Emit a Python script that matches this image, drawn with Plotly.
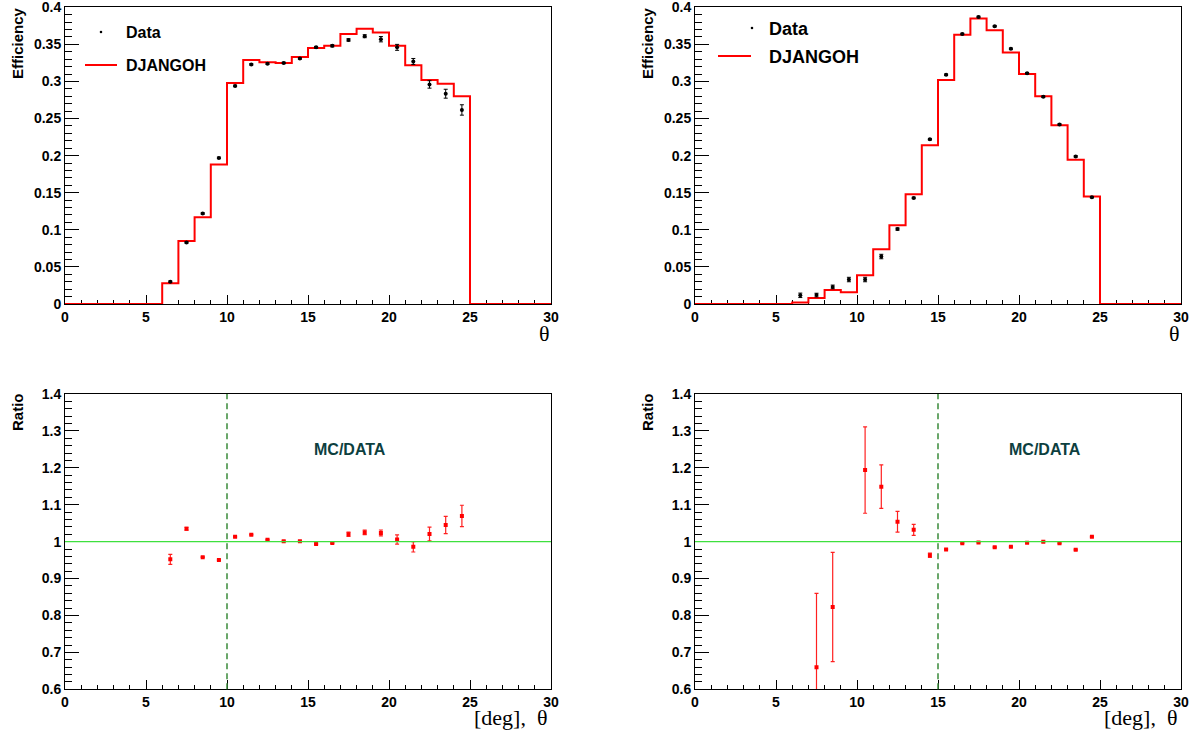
import plotly.graph_objects as go

W, H = 1197, 733

# ---------------- data ----------------
bin_edges = [0, 1, 2, 3, 4, 5, 6, 7, 8, 9, 10, 11, 12, 13, 14, 15, 16, 17, 18, 19,
             20, 21, 22, 23, 24, 25, 26, 27, 28, 29, 30]

mc_left = [0, 0, 0, 0, 0, 0, 0.028, 0.085, 0.117, 0.188, 0.298, 0.329, 0.326, 0.325,
           0.333, 0.345, 0.348, 0.364, 0.371, 0.366, 0.348, 0.322, 0.302, 0.297, 0.280,
           0, 0, 0, 0, 0]
mc_right = [0, 0, 0, 0, 0, 0, 0.002, 0.008, 0.019, 0.016, 0.0387, 0.0737, 0.106, 0.148,
            0.214, 0.302, 0.363, 0.385, 0.369, 0.339, 0.310, 0.280, 0.241, 0.1946, 0.145,
            0, 0, 0, 0, 0]

data_x = [6.5, 7.5, 8.5, 9.5, 10.5, 11.5, 12.5, 13.5, 14.5, 15.5, 16.5, 17.5, 18.5,
          19.5, 20.5, 21.5, 22.5, 23.5, 24.5]
data_left = [0.030, 0.083, 0.122, 0.197, 0.294, 0.323, 0.324, 0.325, 0.331, 0.346, 0.348,
             0.356, 0.361, 0.357, 0.346, 0.327, 0.296, 0.2835, 0.2616]
data_left_err = [0.001, 0.001, 0.001, 0.001, 0.001, 0.001, 0.001, 0.001, 0.001, 0.0012,
                 0.0014, 0.0016, 0.002, 0.0036, 0.004, 0.004, 0.005, 0.006, 0.007]
data_right = [0.0117, 0.012, 0.023, 0.033, 0.033, 0.064, 0.101, 0.143, 0.222, 0.309, 0.364,
              0.387, 0.3745, 0.344, 0.311, 0.2795, 0.242, 0.199, 0.144]
data_right_err = [0.003, 0.0025, 0.0025, 0.003, 0.003, 0.003, 0.0015, 0.001, 0.001, 0.001,
                  0.001, 0.001, 0.001, 0.001, 0.001, 0.001, 0.001, 0.001, 0.001]

ratio_left_x = [6.5, 7.5, 8.5, 9.5, 10.5, 11.5, 12.5, 13.5, 14.5, 15.5, 16.5, 17.5, 18.5,
                19.5, 20.5, 21.5, 22.5, 23.5, 24.5]
ratio_left = [0.952, 1.035, 0.958, 0.950, 1.0135, 1.019, 1.0054, 1.001, 1.001, 0.9937,
              0.9964, 1.020, 1.025, 1.0235, 1.006, 0.986, 1.021, 1.045, 1.0696]
ratio_left_err = [0.0135, 0.004, 0.001, 0.001, 0.001, 0.001, 0.001, 0.001, 0.001, 0.001,
                  0.001, 0.006, 0.006, 0.008, 0.0125, 0.014, 0.0185, 0.0235, 0.029]

ratio_right_x = [7.5, 8.5, 10.5, 11.5, 12.5, 13.5, 14.5, 15.5, 16.5, 17.5, 18.5, 19.5,
                 20.5, 21.5, 22.5, 23.5, 24.5]
ratio_right = [0.660, 0.823, 1.194, 1.149, 1.054, 1.032, 0.963, 0.979, 0.996, 0.998, 0.985,
               0.986, 0.997, 1.000, 0.9955, 0.978, 1.0135]
ratio_right_err = [0.20, 0.148, 0.117, 0.059, 0.028, 0.015, 0.006, 0.001, 0.001, 0.001,
                   0.001, 0.001, 0.001, 0.001, 0.001, 0.001, 0.001]

cut_left = 10
cut_right = 15

x_ticks = [0, 5, 10, 15, 20, 25, 30]
x_ticklabels = ["0", "5", "10", "15", "20", "25", "30"]
eff_ticks = [0, 0.05, 0.1, 0.15, 0.2, 0.25, 0.3, 0.35, 0.4]
eff_ticklabels = ["0", "0.05", "0.1", "0.15", "0.2", "0.25", "0.3", "0.35", "0.4"]
ratio_ticks = [0.6, 0.7, 0.8, 0.9, 1.0, 1.1, 1.2, 1.3, 1.4]
ratio_ticklabels = ["0.6", "0.7", "0.8", "0.9", "1", "1.1", "1.2", "1.3", "1.4"]

# ---------------- helpers ----------------
def px(x):
    return x / W


def py(y):
    return 1 - y / H


TICKFONT = dict(family="Liberation Sans", size=14, color="black", weight="bold")


def xaxis(domain, anchor, layer="above traces"):
    return dict(domain=domain, anchor=anchor, range=[0, 30], automargin=False,
                tickmode="array", tickvals=x_ticks, ticktext=x_ticklabels,
                ticklabeloverflow="allow",
                ticks="inside", ticklen=9, tickcolor="black", tickwidth=1,
                minor=dict(ticks="inside", dtick=1, tick0=0, ticklen=4.5,
                           tickcolor="black", showgrid=False),
                showline=True, linecolor="black", linewidth=1, mirror=True,
                showgrid=False, zeroline=False, tickfont=TICKFONT, layer=layer)


def yaxis(domain, anchor, rng, tv, tt, mdtick, mtick0):
    return dict(domain=domain, anchor=anchor, range=rng, automargin=False,
                tickmode="array", tickvals=tv, ticktext=tt,
                ticklabeloverflow="allow",
                ticks="inside", ticklen=14, tickcolor="black", tickwidth=1,
                minor=dict(ticks="inside", dtick=mdtick, tick0=mtick0, ticklen=7,
                           tickcolor="black", showgrid=False),
                showline=True, linecolor="black", linewidth=1, mirror=True,
                showgrid=False, zeroline=False, tickfont=TICKFONT)


xl = [px(65), px(551)]
xr = [px(695), px(1181)]
yt = [py(304), py(7.3)]
yb = [py(689.3), py(394)]

fig = go.Figure()

# top panels: MC step histograms + data
for mc, dat, err, xa, ya in [(mc_left, data_left, data_left_err, "x", "y"),
                             (mc_right, data_right, data_right_err, "x2", "y2")]:
    fig.add_trace(go.Scatter(x=bin_edges, y=mc + [mc[-1]], mode="lines",
                             line=dict(color="#ff0000", width=2, shape="hv"),
                             xaxis=xa, yaxis=ya, showlegend=False))
    fig.add_trace(go.Scatter(x=data_x, y=dat, mode="markers",
                             marker=dict(color="black", size=4),
                             error_y=dict(type="data", array=err, color="black",
                                          thickness=1, width=2),
                             xaxis=xa, yaxis=ya, showlegend=False))

# ratio panels
for rx, rv, re, xa, ya in [(ratio_left_x, ratio_left, ratio_left_err, "x3", "y3"),
                           (ratio_right_x, ratio_right, ratio_right_err, "x4", "y4")]:
    fig.add_trace(go.Scatter(x=rx, y=rv, mode="markers",
                             marker=dict(color="#ff0000", size=4, symbol="square"),
                             error_y=dict(type="data", array=re, color="#ff2020",
                                          thickness=1.2, width=2),
                             xaxis=xa, yaxis=ya, showlegend=False))

fig.update_layout(
    width=W, height=H,
    margin=dict(l=0, r=0, t=0, b=0, autoexpand=False),
    paper_bgcolor="white", plot_bgcolor="white",
    template="none",
    showlegend=False,
    xaxis=xaxis(xl, "y", layer="below traces"),
    yaxis=yaxis(yt, "x", [0, 0.4], eff_ticks, eff_ticklabels, 0.01, 0),
    xaxis2=xaxis(xr, "y2", layer="below traces"),
    yaxis2=yaxis(yt, "x2", [0, 0.4], eff_ticks, eff_ticklabels, 0.01, 0),
    xaxis3=xaxis(xl, "y3"),
    yaxis3=yaxis(yb, "x3", [0.6, 1.4], ratio_ticks, ratio_ticklabels, 0.02, 0.6),
    xaxis4=xaxis(xr, "y4"),
    yaxis4=yaxis(yb, "x4", [0.6, 1.4], ratio_ticks, ratio_ticklabels, 0.02, 0.6),
)

shapes = []
# unity lines and cut lines in ratio panels
for xa, ya, cut in [("x3", "y3", cut_left), ("x4", "y4", cut_right)]:
    shapes.append(dict(type="line", xref=xa + " domain", yref=ya, x0=0, x1=1, y0=1, y1=1,
                       line=dict(color="#3ee03e", width=1.2), layer="above"))
    shapes.append(dict(type="line", xref=xa, yref=ya + " domain", x0=cut, x1=cut, y0=0, y1=1,
                       line=dict(color="#3a8a3a", width=1.5, dash="6px,4px"), layer="above"))

# legend lines
shapes.append(dict(type="line", xref="paper", yref="paper", x0=px(85), x1=px(117),
                   y0=py(65), y1=py(65), line=dict(color="#ff0000", width=2)))
shapes.append(dict(type="line", xref="paper", yref="paper", x0=px(718), x1=px(751),
                   y0=py(56), y1=py(56), line=dict(color="#ff0000", width=2)))
# legend dots
for cx, cy in [(101, 32), (752, 28)]:
    shapes.append(dict(type="circle", xref="paper", yref="paper",
                       x0=px(cx - 1.3), x1=px(cx + 1.3), y0=py(cy + 1.3), y1=py(cy - 1.3),
                       fillcolor="black", line=dict(color="black", width=0)))
fig.update_layout(shapes=shapes)

ann = []
LEG = dict(family="Liberation Sans", color="black", weight="bold")
ann.append(dict(text="Data", x=px(124), y=py(33), xref="paper", yref="paper",
                xanchor="left", yanchor="middle", showarrow=False, font=dict(size=16, **LEG)))
ann.append(dict(text="DJANGOH", x=px(124), y=py(66), xref="paper", yref="paper",
                xanchor="left", yanchor="middle", showarrow=False, font=dict(size=16, **LEG)))
ann.append(dict(text="Data", x=px(767), y=py(29), xref="paper", yref="paper",
                xanchor="left", yanchor="middle", showarrow=False, font=dict(size=18, **LEG)))
ann.append(dict(text="DJANGOH", x=px(767), y=py(57), xref="paper", yref="paper",
                xanchor="left", yanchor="middle", showarrow=False, font=dict(size=18, **LEG)))

for dx in [0, 630]:
    ann.append(dict(text="Efficiency", x=px(17 + dx), y=py(43), xref="paper", yref="paper",
                    textangle=-90, showarrow=False, xanchor="center", yanchor="middle",
                    font=dict(size=15, **LEG)))
    ann.append(dict(text="Ratio", x=px(17 + dx), y=py(412), xref="paper", yref="paper",
                    textangle=-90, showarrow=False, xanchor="center", yanchor="middle",
                    font=dict(size=15, **LEG)))
    ann.append(dict(text="θ", x=px(544 + dx), y=py(333), xref="paper", yref="paper",
                    showarrow=False, xanchor="center", yanchor="middle",
                    font=dict(family="Liberation Serif", size=22, color="black")))
    ann.append(dict(text="[deg],  θ", x=px(549 + dx), y=py(717), xref="paper", yref="paper",
                    showarrow=False, xanchor="right", yanchor="middle",
                    font=dict(family="Liberation Serif", size=22, color="black")))

ann.append(dict(text="MC/DATA", x=17.6, y=1.25, xref="x3", yref="y3", showarrow=False,
                xanchor="center", yanchor="middle",
                font=dict(family="Liberation Sans", size=16, color="#0d3f3f", weight="bold")))
ann.append(dict(text="MC/DATA", x=21.6, y=1.25, xref="x4", yref="y4", showarrow=False,
                xanchor="center", yanchor="middle",
                font=dict(family="Liberation Sans", size=16, color="#0d3f3f", weight="bold")))
fig.update_layout(annotations=ann)

fig.write_html("out.html", config={"displayModeBar": False},
               post_script="document.body.style.margin='0px';")
